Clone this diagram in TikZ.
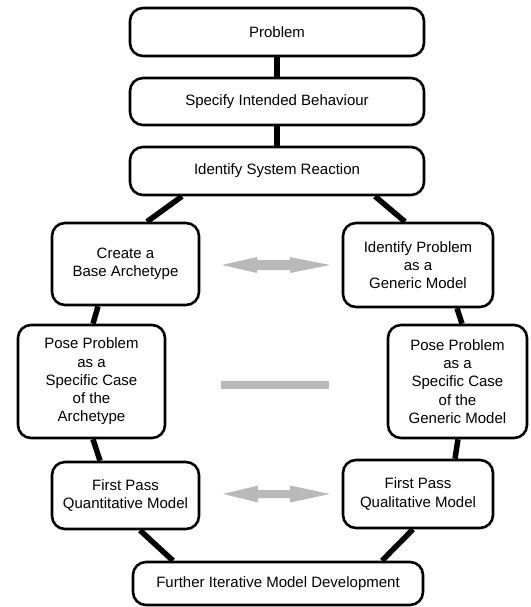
\documentclass[tikz,border=0pt]{standalone}
\usepackage{fontspec}
\setmainfont{Liberation Sans}
\usetikzlibrary{backgrounds}
\begin{document}
\begin{tikzpicture}[x=1pt,y=-1pt,
  box/.style={draw=black, line width=2.6pt, rounded corners=13pt, fill=white,
    align=center, inner sep=0pt, font=\fontsize{15}{18.3}\selectfont},
  conn/.style={line width=5.5pt, black},
  garrow/.style={fill=gray!55, draw=none}]
\useasboundingbox (0,0) rectangle (530,607);
% boxes
\node[box, minimum width=294pt, minimum height=48pt] (prob) at (277,32) {Problem};
\node[box, minimum width=294pt, minimum height=47pt] (spec) at (277,101.5) {Specify Intended Behaviour};
\node[box, minimum width=294pt, minimum height=48pt] (idsys) at (277,171) {Identify System Reaction};
\node[box, minimum width=147pt, minimum height=82pt] (create) at (125.5,264) {Create a\\Base Archetype};
\node[box, minimum width=150pt, minimum height=84pt] (idprob) at (418,265) {Identify Problem\\as a\\Generic Model};
\node[box, minimum width=147pt, minimum height=113pt] (poseL) at (91.5,381.5) {Pose Problem\\as a\\Specific Case\\of the\\Archetype};
\node[box, minimum width=139pt, minimum height=113pt] (poseR) at (457.5,381.5) {Pose Problem\\as a\\Specific Case\\of the\\Generic Model};
\node[box, minimum width=147pt, minimum height=67pt] (fpquant) at (125.5,495.5) {First Pass\\Quantitative Model};
\node[box, minimum width=150pt, minimum height=68pt] (fpqual) at (418,494) {First Pass\\Qualitative Model};
\node[box, minimum width=290pt, minimum height=43pt] (further) at (278,583.5) {Further Iterative Model Development};
% connectors
\begin{scope}[on background layer]
\draw[conn] (prob.south) -- (spec.north);
\draw[conn] (spec.south) -- (idsys.north);
\draw[conn] ([xshift=-95pt]idsys.south) -- ([xshift=21.5pt]create.north);
\draw[conn] ([xshift=98pt]idsys.south) -- ([xshift=-13pt]idprob.north);
\draw[conn] ([xshift=-27.5pt]create.south) -- ([xshift=1.5pt]poseL.north);
\draw[conn] ([xshift=39pt]idprob.south) -- ([xshift=4.5pt]poseR.north);
\draw[conn] ([xshift=1.5pt]poseL.south) -- ([xshift=-25.5pt]fpquant.north);
\draw[conn] ([xshift=0.5pt]poseR.south) -- ([xshift=37pt]fpqual.north);
\draw[conn] ([xshift=14.5pt]fpquant.south) -- ([xshift=-105pt]further.north);
\draw[conn] ([xshift=-5pt]fpqual.south) -- ([xshift=104pt]further.north);
\end{scope}
% gray double arrows and bar
\fill[garrow] (222,265) -- (257,257) -- (257,260) -- (290,260) -- (290,257) -- (330,265)
  -- (290,273) -- (290,270) -- (257,270) -- (257,273) -- cycle;
\fill[garrow] (221,381) rectangle (329,389);
\fill[garrow] (223,494) -- (258,485.5) -- (258,490) -- (290,490) -- (290,485.5) -- (330,494)
  -- (290,502.5) -- (290,498) -- (258,498) -- (258,502.5) -- cycle;
\end{tikzpicture}
\end{document}
